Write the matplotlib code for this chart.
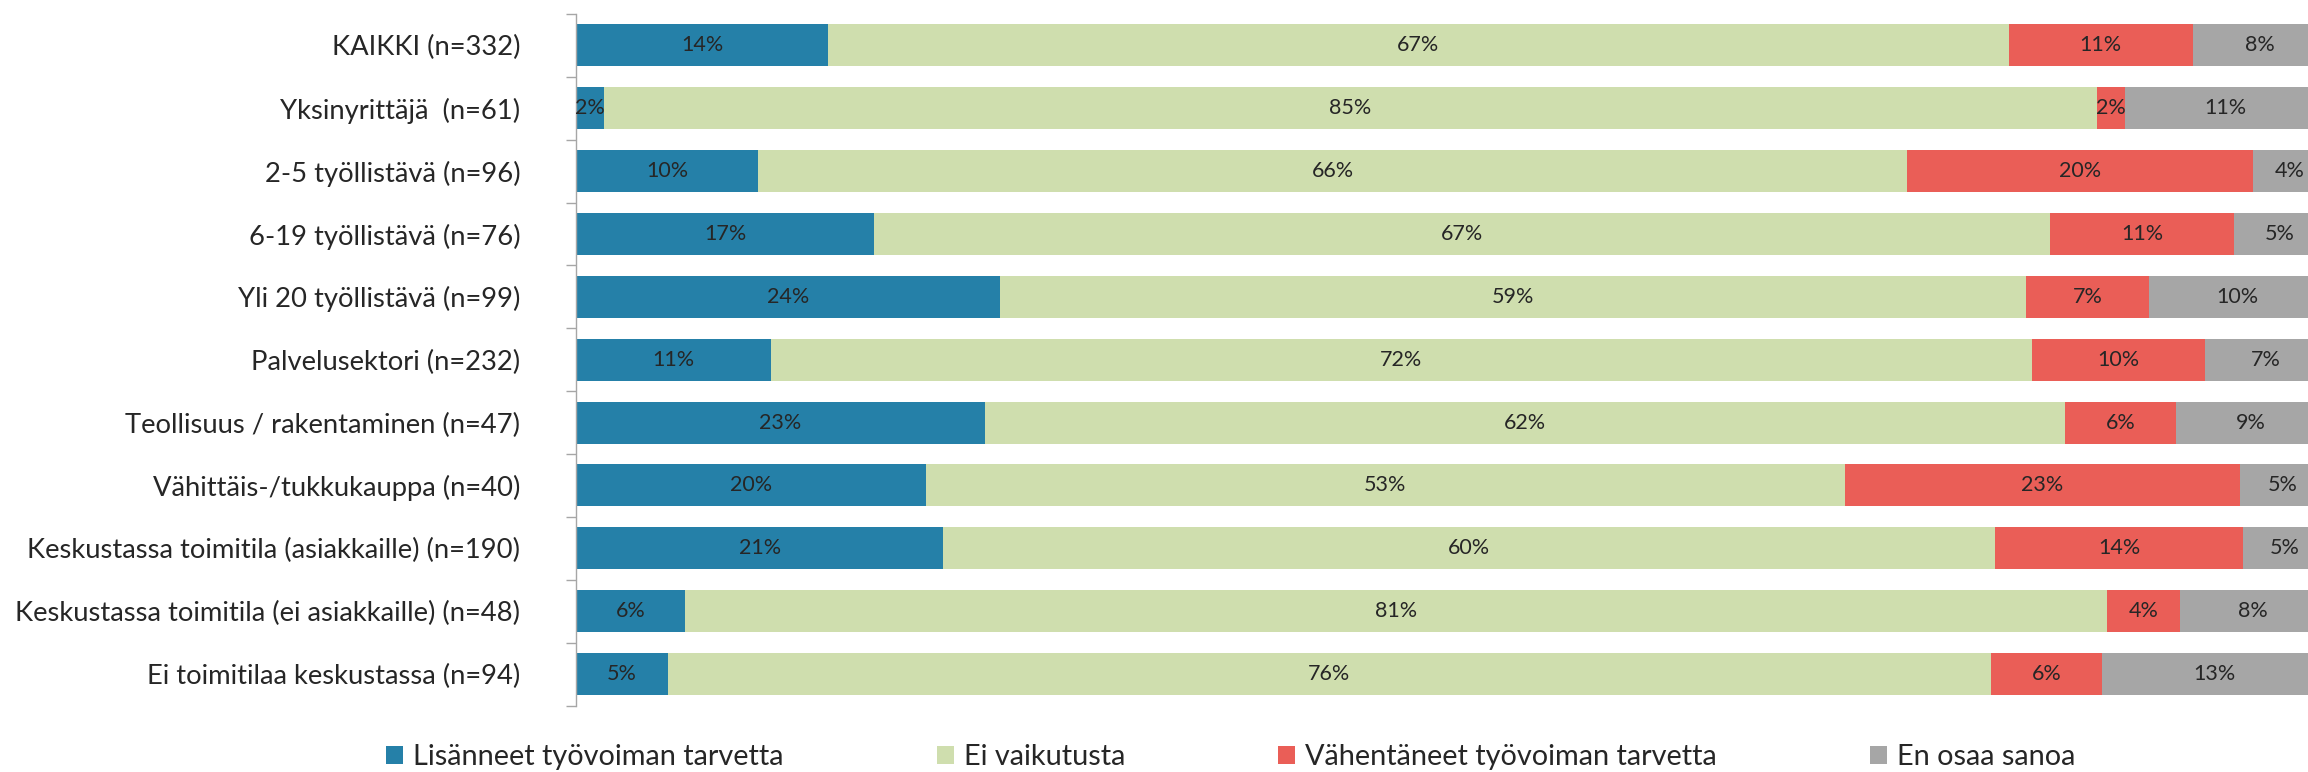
import matplotlib
matplotlib.use("Agg")
import matplotlib.pyplot as plt
from matplotlib.patches import Patch
import numpy as np

plt.rcParams['font.family'] = ['Lato', 'DejaVu Sans']

categories = [
    "KAIKKI (n=332)",
    "Yksinyrittäjä  (n=61)",
    "2-5 työllistävä (n=96)",
    "6-19 työllistävä (n=76)",
    "Yli 20 työllistävä (n=99)",
    "Palvelusektori (n=232)",
    "Teollisuus / rakentaminen (n=47)",
    "Vähittäis-/tukkukauppa (n=40)",
    "Keskustassa toimitila (asiakkaille) (n=190)",
    "Keskustassa toimitila (ei asiakkaille) (n=48)",
    "Ei toimitilaa keskustassa (n=94)",
]
series_names = ["Lisänneet työvoiman tarvetta", "Ei vaikutusta",
                "Vähentäneet työvoiman tarvetta", "En osaa sanoa"]
increased = [14.42, 1.61, 10.40, 17.04, 24.23, 11.14, 23.38, 19.98, 20.99, 6.23, 5.26]
no_effect = [67.45, 85.30, 65.67, 67.17, 58.63, 72.04, 61.72, 52.54, 60.07, 81.26, 75.58]
decreased = [10.53, 1.61, 19.75, 10.55, 7.03, 9.90, 6.34, 22.56, 14.22, 4.18, 6.37]
dont_know = [7.60, 11.48, 4.18, 5.24, 10.11, 6.92, 8.56, 4.92, 4.72, 8.33, 12.79]

colors = ["#2580A8", "#CFDEAE", "#EA5E57", "#A6A6A6"]
text_color = "#262626"

W, H = 2308, 772
fig = plt.figure(figsize=(W / 100, H / 100), dpi=100)
x0, x1 = 575.9, 2326.0
ytop, ybot = 14.0, 705.5
ax = fig.add_axes([x0 / W, 1 - ybot / H, (x1 - x0) / W, (ybot - ytop) / H])

y = np.arange(len(categories))
left = np.zeros(len(categories))
for vals, col in zip([increased, no_effect, decreased, dont_know], colors):
    vals = np.array(vals)
    ax.barh(y, vals, left=left, height=0.668, color=col, edgecolor="none")
    for yi, l, v in zip(y, left, vals):
        ax.text(l + v / 2, yi, f"{v:.0f}%", ha="center", va="center",
                fontsize=15.5, color=text_color)
    left = left + vals

ax.set_xlim(0, 100)
ax.set_ylim(len(categories) - 0.5, -0.5)
ax.set_yticks(y)
ax.set_yticklabels(categories, fontsize=19.7, color=text_color)
ax.tick_params(axis="y", which="major", length=0, pad=40)
ax.set_yticks(np.arange(len(categories) + 1) - 0.5, minor=True)
ax.tick_params(axis="y", which="minor", length=7, width=1, color="#A6A6A6", direction="out")
ax.set_xticks([])
for s in ["top", "right", "bottom"]:
    ax.spines[s].set_visible(False)
ax.spines["left"].set_color("#A6A6A6")
ax.spines["left"].set_linewidth(1)

handles = [Patch(facecolor=c, edgecolor="none") for c in colors]
fs = 20.8
fspx = fs * 100 / 72
leg = fig.legend(handles, series_names, loc="center", bbox_to_anchor=(1230.5 / W, 1 - 757 / H),
                 ncol=4, frameon=False, fontsize=fs, handlelength=17 / fspx, handleheight=17 / fspx,
                 handletextpad=10 / fspx, columnspacing=153 / fspx, borderpad=0, borderaxespad=0)
for t in leg.get_texts():
    t.set_color(text_color)

fig.savefig("out.png", dpi=100)
